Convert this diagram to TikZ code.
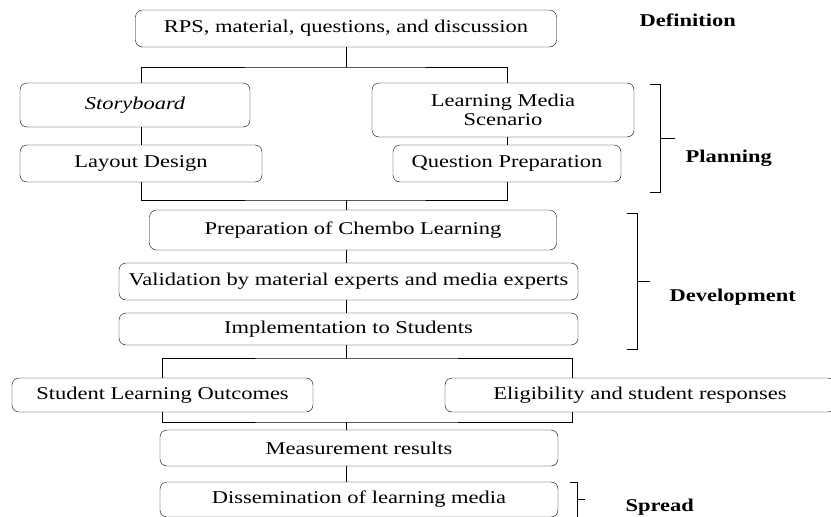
\documentclass[tikz,border=0pt]{standalone}
\usepackage{fontspec}
\setmainfont[FakeStretch=1.25]{Liberation Serif}

\begin{document}
\begin{tikzpicture}[%
      x=1pt, y=-1pt,
      box/.style={draw, rounded corners=7pt, inner sep=0pt, align=center,
        font=\fontsize{18}{19}\selectfont},
      phase/.style={anchor=west, font=\bfseries\fontsize{18}{20}\selectfont},
      ]
      \useasboundingbox (0,0) rectangle (831,517);

      % boxes
      \node [box, minimum width=421, minimum height=37] (rps) at (346,28.5) {RPS, material, questions, and discussion};
      \node [box, minimum width=230, minimum height=44] (story) at (135,105) {\textit{Storyboard}};
      \node [box, minimum width=262, minimum height=54] (lms) at (503,110) {Learning Media\\Scenario};
      \node [box, minimum width=242, minimum height=37] (layout) at (141,163.5) {Layout Design};
      \node [box, minimum width=228, minimum height=37] (quest) at (507,163.5) {Question Preparation};
      \node [box, minimum width=407, minimum height=40] (prep) at (353,230) {Preparation of Chembo Learning};
      \node [box, minimum width=459, minimum height=37] (valid) at (348.5,281.5) {Validation by material experts and media experts};
      \node [box, minimum width=459, minimum height=32] (impl) at (348.5,329) {Implementation to Students};
      \node [box, minimum width=301, minimum height=34] (slo) at (162.5,395) {Student Learning Outcomes};
      \node [box, minimum width=390, minimum height=34] (elig) at (640,395) {Eligibility and student responses};
      \node [box, minimum width=398, minimum height=36] (meas) at (359,448) {Measurement results};
      \node [box, minimum width=398, minimum height=35] (diss) at (359,499.5) {Dissemination of learning media};

      % junctions
      \coordinate (ja) at (346,67);
      \coordinate (jb) at (346,200);
      \coordinate (jc) at (346,358);
      \coordinate (jcr) at (572,358);
      \coordinate (jd) at (346,422);
      \coordinate (jdr) at (572,422);

      % connectors
      \draw (rps.south) -- (ja);
      \draw (story.north -| layout) |- (ja) -| (lms.north -| quest);
      \draw (story.south -| layout) -- (layout.north);
      \draw (lms.south -| quest) -- (quest.north);
      \draw (layout.south) |- (jb) -| (quest.south);
      \draw (jb) -- (jb |- prep.north);
      \draw (prep.south -| jb) -- (valid.north -| jb);
      \draw (valid.south -| jb) -- (impl.north -| jb);
      \draw (impl.south -| jc) -- (jc);
      \draw (slo.north) |- (jc) -- (jcr) -- (jcr |- elig.north);
      \draw (slo.south) |- (jd) -- (jdr) -- (jdr |- elig.south);
      \draw (jd) -- (jd |- meas.north);
      \draw (meas.south -| jd) -- (diss.north -| jd);

      % phases
      \draw (650,84) -- (660,84) -- (660,192) -- (650,192);
      \draw (660,138) -- (675,138);
      \draw (627,213) -- (637,213) -- (637,349) -- (627,349);
      \draw (637,281) -- (650,281);
      \draw (570,482) -- (577,482) -- (577,520) -- (570,520);
      \draw (577,499) -- (585,499);

      \node [phase] (def) at (636,20) {Definition};
      \node [phase] (plan) at (682,158) {Planning};
      \node [phase] (dev) at (666,297) {Development};
      \node [phase] (spr) at (622,507) {Spread};
\end{tikzpicture}
\end{document}
